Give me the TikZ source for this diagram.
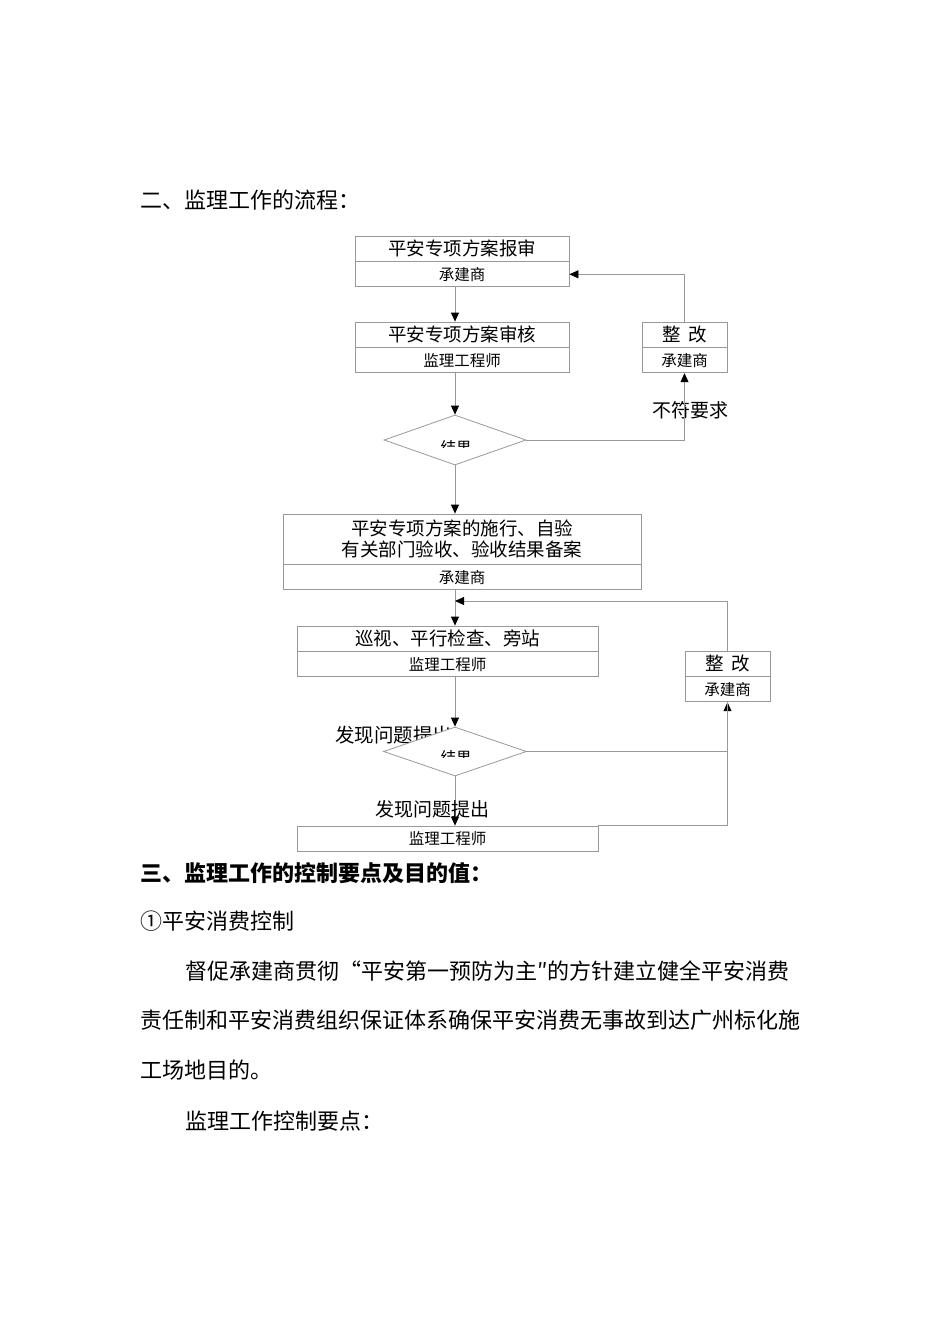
\documentclass[tikz,border=0pt]{standalone}
\usepackage{fontspec}
\setmainfont{Noto Sans CJK SC}
\usetikzlibrary{arrows.meta, shapes.geometric, positioning}

\begin{document}
\begin{tikzpicture}[
		x=1pt, y=-1pt,
		line/.style={draw=black!40, line width=0.8pt},
		arr/.style={line, -{Triangle[color=black, width=8pt, length=9pt]}},
		cell/.style={draw=black!40, line width=0.8pt, inner sep=0pt, minimum height=25pt},
		big/.style={font=\fontsize{18.5pt}{21pt}\selectfont},
		small/.style={font=\fontsize{15.5pt}{18pt}\selectfont},
		decide/.style={diamond, draw=black!40, fill=white, line width=0.8pt, inner sep=0pt},
		body/.style={anchor=west, inner sep=0pt, font=\fontsize{22pt}{26pt}\selectfont},
		]
	\useasboundingbox[fill=white] (0,0) rectangle (950,1344);

	\node (t1) [body] at (140,200) {二、监理工作的流程：};

	% first part
	\node (b1) [cell,big,minimum width=214pt] at (462,248.5) {平安专项方案报审};
	\node (b1r) [cell,small,minimum width=214pt,below=0pt of b1] {承建商};
	\node (b2) [cell,big,minimum width=214pt] at (462,334.5) {平安专项方案审核};
	\node (b2r) [cell,small,minimum width=214pt,below=0pt of b2] {监理工程师};
	\node (r1) [cell,big,minimum width=85pt] at (684.5,334.5) {整\hspace{7pt}改};
	\node (r1r) [cell,small,minimum width=85pt,below=0pt of r1] {承建商};
	\node (d1) [decide,minimum width=142pt,minimum height=50pt] at (455,440) {};
	\begin{scope}
		\clip (420,430) rectangle (495,447);
		\node (d1t) [small] at (456,447.5) {结果};
	\end{scope}
	\node (nq) [font=\fontsize{19pt}{22pt}\selectfont, inner sep=0pt] at (690,410) {不符要求};

	\draw[arr] (b1r.south -| d1) -- (b2.north -| d1);
	\draw[arr] (b2r.south -| d1) -- (d1.north);
	\draw[arr] (d1.east) -| (r1r.south);
	\draw[arr] (r1.north) |- (b1r.east);

	% second part
	\node (b3) [cell,big,minimum width=358pt,minimum height=50pt,align=center] at (462,539)
		{平安专项方案的施行、自验\\有关部门验收、验收结果备案};
	\node (b3r) [cell,small,minimum width=358pt,below=0pt of b3] {承建商};
	\node (b4) [cell,big,minimum width=301pt] at (447.5,638.5) {巡视、平行检查、旁站};
	\node (b4r) [cell,small,minimum width=301pt,below=0pt of b4] {监理工程师};
	\node (r2) [cell,big,minimum width=85pt] at (727.5,663.5) {整\hspace{7pt}改};
	\node (r2r) [cell,small,minimum width=85pt,below=0pt of r2] {承建商};
	\node (f1) [font=\fontsize{19.5pt}{22pt}\selectfont, anchor=west, inner sep=0pt] at (335,735) {发现问题提出};
	\node (d2) [decide,minimum width=143pt,minimum height=49pt] at (455,751.5) {};
	\begin{scope}
		\clip (420,740) rectangle (495,757);
		\node (d2t) [small] at (456,757.5) {结果};
	\end{scope}
	\node (b5) [cell,small,minimum width=301pt] at (447.5,838.5) {监理工程师};
	\coordinate (j1) at (455,601);

	\draw[arr] (d1.south) -- (b3.north -| d1);
	\draw[arr] (b3r.south -| d2) -- (b4.north -| d2);
	\draw[arr] (r2.north) |- (j1);
	\draw[arr] (b4r.south -| d2) -- (d2.north);
	\draw[arr] (d2.east) -| (r2r.south);
	\draw[arr] (d2.south) -- (b5.north -| d2);
	\draw[line] (b5.north east) -| (r2r.south);
	\node (f2) [font=\fontsize{19pt}{22pt}\selectfont, anchor=west, inner sep=0pt] at (375,809) {发现问题提出};

	% text below
	\node (t2) [body,font=\fontsize{22pt}{26pt}\selectfont\bfseries] at (140,873) {三、监理工作的控制要点及目的值：};
	\node (t3) [body] at (140,921) {①平安消费控制};
	\node (p1) [body] at (185,971) {督促承建商贯彻“平安第一预防为主″的方针建立健全平安消费};
	\node (p2) [body] at (140,1020) {责任制和平安消费组织保证体系确保平安消费无事故到达广州标化施};
	\node (p3) [body] at (140,1070) {工场地目的。};
	\node (p4) [body] at (185,1121) {监理工作控制要点：};
\end{tikzpicture}
\end{document}
